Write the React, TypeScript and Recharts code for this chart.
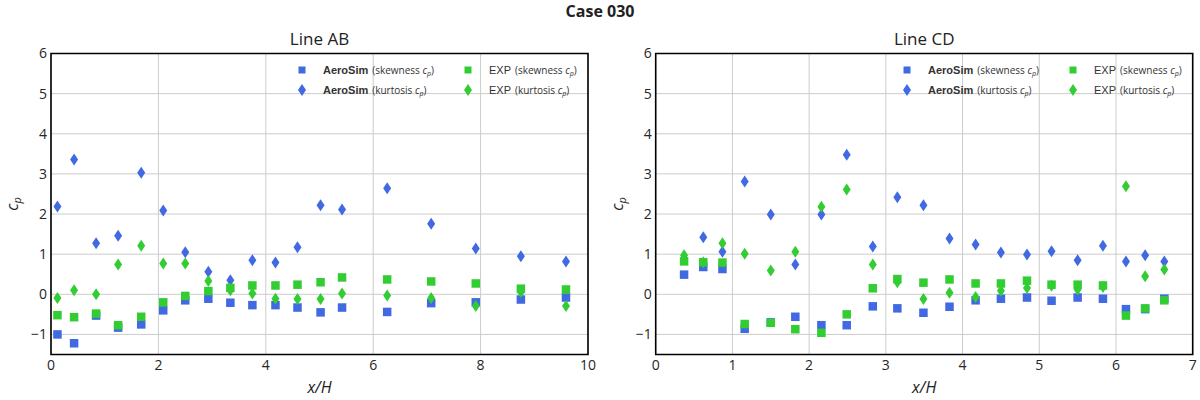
import { ScatterChart, Scatter, XAxis, YAxis, CartesianGrid, ReferenceArea, Legend, Label } from 'recharts';

// Line AB
const abX = [0.12, 0.43, 0.84, 1.25, 1.68, 2.09, 2.5, 2.93, 3.34, 3.75, 4.18, 4.59, 5.02, 5.42, 6.26, 7.08, 7.91, 8.75, 9.59];
const abSimSkew = [-1.0, -1.22, -0.53, -0.83, -0.75, -0.4, -0.15, -0.11, -0.21, -0.27, -0.27, -0.33, -0.45, -0.33, -0.44, -0.22, -0.2, -0.13, -0.08];
const abSimKurt = [2.19, 3.36, 1.27, 1.46, 3.03, 2.09, 1.05, 0.56, 0.35, 0.85, 0.79, 1.17, 2.22, 2.11, 2.64, 1.76, 1.14, 0.95, 0.82];
const abExpSkew = [-0.52, -0.57, -0.48, -0.77, -0.56, -0.2, -0.04, 0.08, 0.16, 0.22, 0.22, 0.24, 0.3, 0.42, 0.37, 0.32, 0.27, 0.14, 0.12];
const abExpKurt = [-0.09, 0.1, 0.0, 0.74, 1.21, 0.77, 0.77, 0.33, 0.1, 0.02, -0.11, -0.12, -0.12, 0.02, -0.03, -0.09, -0.29, 0.06, -0.29];

// Line CD
const cdX = [0.37, 0.62, 0.87, 1.16, 1.5, 1.82, 2.16, 2.49, 2.83, 3.15, 3.49, 3.83, 4.17, 4.5, 4.84, 5.16, 5.5, 5.83, 6.13, 6.38, 6.63];
const cdSimSkew = [0.49, 0.68, 0.63, -0.86, -0.7, -0.56, -0.77, -0.77, -0.3, -0.35, -0.46, -0.31, -0.15, -0.11, -0.08, -0.16, -0.08, -0.11, -0.37, -0.37, -0.11];
const cdSimKurt = [0.9, 1.42, 1.06, 2.81, 1.99, 0.74, 1.99, 3.48, 1.19, 2.42, 2.22, 1.39, 1.24, 1.04, 0.99, 1.07, 0.85, 1.21, 0.82, 0.97, 0.82];
const cdExpSkew = [0.82, 0.8, 0.79, -0.74, -0.71, -0.87, -0.96, -0.5, 0.15, 0.38, 0.29, 0.37, 0.27, 0.27, 0.34, 0.24, 0.24, 0.22, -0.53, -0.35, -0.15];
const cdExpKurt = [0.97, 0.8, 1.27, 1.01, 0.59, 1.06, 2.18, 2.61, 0.74, 0.3, -0.12, 0.04, -0.07, 0.09, 0.16, 0.21, 0.12, 0.18, 2.69, 0.45, 0.62];

const yTicks = [-1, 0, 1, 2, 3, 4, 5, 6];
const abTicks = [0, 2, 4, 6, 8, 10];
const cdTicks = [0, 1, 2, 3, 4, 5, 6, 7];
const legendStats = ['skewness', 'kurtosis'];

const BLUE = '#4169e1';
const GREEN = '#32cd32';
const FONT = '"Open Sans", "Noto Sans", sans-serif';

const toPoints = (xs: number[], ys: number[]) => xs.map((x, i) => ({ x, y: ys[i] }));
const fmt = (v: number) => String(v).replace('-', '\u2212');

const square = (color: string) => (p: any) => (
  <rect x={p.cx - 4.25} y={p.cy - 4.25} width={8.5} height={8.5} fill={color} />
);
const diamond = (color: string) => (p: any) => (
  <path d={`M${p.cx},${p.cy - 6}L${p.cx + 4},${p.cy}L${p.cx},${p.cy + 6}L${p.cx - 4},${p.cy}Z`} fill={color} />
);

const legendBox = () => (
  <svg width={300} height={42}>
    {legendStats.map((stat, row) => {
      const y = 12 + row * 20;
      return (
        <g key={stat}>
          {row === 0 ? (
            <>
              <rect x={6.5} y={y - 3.5} width={7} height={7} fill={BLUE} />
              <rect x={172.5} y={y - 3.5} width={7} height={7} fill={GREEN} />
            </>
          ) : (
            <>
              <path d={`M10,${y - 6}L14,${y}L10,${y + 6}L6,${y}Z`} fill={BLUE} />
              <path d={`M176,${y - 6}L180,${y}L176,${y + 6}L172,${y}Z`} fill={GREEN} />
            </>
          )}
          <text x={31} y={y + 4} fill="#333" fontSize={10} fontFamily={FONT}>
            <tspan fontFamily='"Liberation Sans", Arial, sans-serif' fontWeight="bold" fontSize={11}>AeroSim</tspan>
            <tspan dx={4}>({stat} </tspan>
            <tspan fontStyle="italic">c</tspan>
            <tspan fontSize={7} fontStyle="italic" dy={2}>p</tspan>
            <tspan dy={-2}>)</tspan>
          </text>
          <text x={197} y={y + 4} fill="#333" fontSize={10} fontFamily={FONT}>
            <tspan fontFamily='"Liberation Sans", Arial, sans-serif' fontSize={11}>EXP</tspan>
            <tspan dx={4}>({stat} </tspan>
            <tspan fontStyle="italic">c</tspan>
            <tspan fontSize={7} fontStyle="italic" dy={2}>p</tspan>
            <tspan dy={-2}>)</tspan>
          </text>
        </g>
      );
    })}
  </svg>
);

const xLabel = (props: any) => {
  const vb = props.viewBox;
  return (
    <text x={vb.x + vb.width / 2} y={393} textAnchor="middle" fontSize={16} fontStyle="italic" fill="#222" fontFamily={FONT}>
      x/H
    </text>
  );
};

const yLabel = (props: any) => {
  const vb = props.viewBox;
  const x = vb.x + vb.width - 33;
  const y = vb.y + vb.height / 2;
  return (
    <text x={x} y={y} transform={`rotate(-90, ${x}, ${y})`} textAnchor="middle" fontSize={16} fontStyle="italic" fill="#222" fontFamily={FONT}>
      c<tspan fontSize={11} dy={3}>p</tspan>
    </text>
  );
};

interface PanelProps {
  title: string;
  xs: number[];
  simSkew: number[];
  simKurt: number[];
  expSkew: number[];
  expKurt: number[];
  xMax: number;
  xTicks: number[];
  left: number;
  yAxisWidth: number;
  rightMargin: number;
}

function Panel({ title, xs, simSkew, simKurt, expSkew, expKurt, xMax, xTicks, left, yAxisWidth, rightMargin }: PanelProps) {
  const tickStyle = { fontSize: 14, fill: '#262626', fontFamily: FONT };
  const plotRight = 600 - rightMargin;
  return (
    <div style={{ position: 'absolute', left, top: 0, width: 600, height: 400 }}>
      <ScatterChart width={600} height={400} margin={{ top: 53.5, right: rightMargin, bottom: 0, left: 0 }}>
        <CartesianGrid stroke="#cccccc" strokeWidth={1} />
        <XAxis
          type="number"
          dataKey="x"
          domain={[0, xMax]}
          ticks={xTicks}
          height={45.5}
          axisLine={false}
          tickLine={false}
          tickSize={6}
          tickMargin={0}
          tick={tickStyle}
          tickFormatter={fmt}
        >
          <Label content={xLabel} />
        </XAxis>
        <YAxis
          type="number"
          dataKey="y"
          domain={[-1.5, 6]}
          ticks={yTicks}
          width={yAxisWidth}
          axisLine={false}
          tickLine={false}
          tickSize={4}
          tickMargin={0}
          tick={tickStyle}
          tickFormatter={fmt}
        >
          <Label content={yLabel} />
        </YAxis>
        <ReferenceArea
          x1={0}
          x2={xMax}
          y1={-1.5}
          y2={6}
          fill="none"
          stroke="#000"
          strokeWidth={1.6}
          label={{ value: title, position: 'top', offset: 8.5, fontSize: 17, fill: '#222', fontFamily: FONT }}
        />
        <Scatter data={toPoints(xs, simSkew)} shape={square(BLUE)} isAnimationActive={false} />
        <Scatter data={toPoints(xs, simKurt)} shape={diamond(BLUE)} isAnimationActive={false} />
        <Scatter data={toPoints(xs, expSkew)} shape={square(GREEN)} isAnimationActive={false} />
        <Scatter data={toPoints(xs, expKurt)} shape={diamond(GREEN)} isAnimationActive={false} />
        <Legend
          layout="vertical"
          verticalAlign="middle"
          align="center"
          content={legendBox}
          wrapperStyle={{ left: plotRight - 296, top: 58, width: 300, height: 42 }}
        />
      </ScatterChart>
    </div>
  );
}

export default function App() {
  return (
    <div style={{ position: 'absolute', left: 0, top: 0, width: 1200, height: 400, background: '#fff' }}>
      <div
        style={{
          position: 'absolute',
          top: 0,
          left: 0,
          width: 1200,
          textAlign: 'center',
          fontFamily: FONT,
          fontWeight: 'bold',
          fontSize: 16,
          color: '#222',
        }}
      >
        Case 030
      </div>
      <Panel
        title="Line AB"
        xs={abX}
        simSkew={abSimSkew}
        simKurt={abSimKurt}
        expSkew={abExpSkew}
        expKurt={abExpKurt}
        xMax={10}
        xTicks={abTicks}
        left={0}
        yAxisWidth={51}
        rightMargin={12}
      />
      <Panel
        title="Line CD"
        xs={cdX}
        simSkew={cdSimSkew}
        simKurt={cdSimKurt}
        expSkew={cdExpSkew}
        expKurt={cdExpKurt}
        xMax={7}
        xTicks={cdTicks}
        left={600}
        yAxisWidth={55.7}
        rightMargin={7.3}
      />
    </div>
  );
}
